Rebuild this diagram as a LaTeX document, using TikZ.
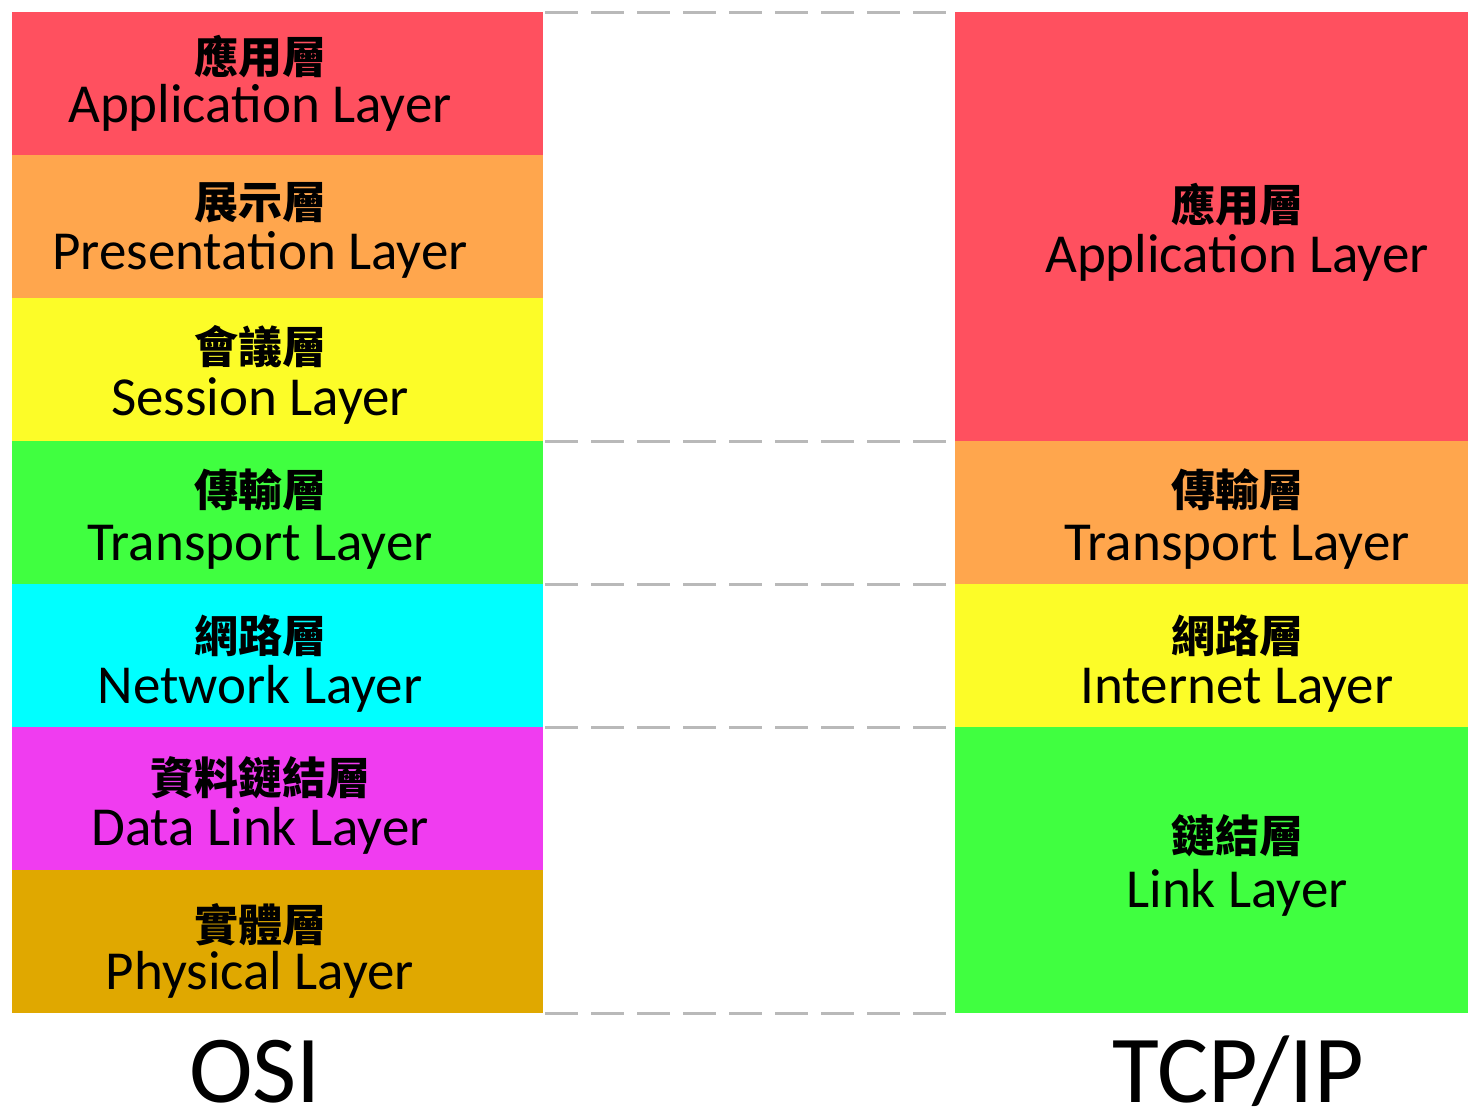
\documentclass[tikz,border=0pt]{standalone}
\usepackage{fontspec}
\setmainfont{Carlito}
\newfontfamily\cjk{Noto Sans CJK TC}
\definecolor{cred}{RGB}{255,80,95}
\definecolor{corange}{RGB}{255,166,77}
\definecolor{cyellow}{RGB}{252,252,40}
\definecolor{cgreen}{RGB}{64,255,64}
\definecolor{ccyan}{RGB}{0,255,255}
\definecolor{cmagenta}{RGB}{240,60,240}
\definecolor{cgold}{RGB}{224,168,0}
\definecolor{dashgray}{RGB}{185,185,185}
\begin{document}
\begin{tikzpicture}[x=1pt,y=-1pt,
  zh/.style={font=\cjk\bfseries\fontsize{44}{44}\selectfont, anchor=base, inner sep=0pt},
  en/.style={font=\fontsize{55}{55}\selectfont, anchor=base, inner sep=0pt},
  big/.style={font=\fontsize{96}{96}\selectfont, anchor=base, inner sep=0pt},
  sep/.style={draw=dashgray, line width=3pt, dash pattern=on 33pt off 13pt}]
\useasboundingbox (0,0) rectangle (1468,1111);
\fill[white] (0,0) rectangle (1468,1111);
% OSI column
\fill[cred]     (12,12)  rectangle (543,155);
\fill[corange]  (12,155) rectangle (543,298);
\fill[cyellow]  (12,298) rectangle (543,441);
\fill[cgreen]   (12,441) rectangle (543,584);
\fill[ccyan]    (12,584) rectangle (543,727);
\fill[cmagenta] (12,727) rectangle (543,870);
\fill[cgold]    (12,870) rectangle (543,1013);
% TCP/IP column
\fill[cred]     (955,12)  rectangle (1468,441);
\fill[corange]  (955,441) rectangle (1468,584);
\fill[cyellow]  (955,584) rectangle (1468,727);
\fill[cgreen]   (955,727) rectangle (1468,1013);
% dashed separators
\coordinate (s0a) at (545,12);   \coordinate (s0b) at (955,12);
\coordinate (s1a) at (545,441);  \coordinate (s1b) at (955,441);
\coordinate (s2a) at (545,584);  \coordinate (s2b) at (955,584);
\coordinate (s3a) at (545,727);  \coordinate (s3b) at (955,727);
\coordinate (s4a) at (545,1013); \coordinate (s4b) at (955,1013);
\foreach \i in {0,...,4} \draw[sep] (s\i a) -- (s\i b);
% OSI labels
\node[zh] (o1z) at (260,73)  {應用層};   \node[en] (o1e) at (260,122)  {Application Layer};
\node[zh] (o2z) at (260,218) {展示層};   \node[en] (o2e) at (260,269)  {Presentation Layer};
\node[zh] (o3z) at (260,363) {會議層};   \node[en] (o3e) at (260,415)  {Session Layer};
\node[zh] (o4z) at (260,506) {傳輸層};   \node[en] (o4e) at (260,560)  {Transport Layer};
\node[zh] (o5z) at (260,652) {網路層};   \node[en] (o5e) at (260,703)  {Network Layer};
\node[zh] (o6z) at (260,794) {資料鏈結層}; \node[en] (o6e) at (260,845) {Data Link Layer};
\node[zh] (o7z) at (260,941) {實體層};   \node[en] (o7e) at (260,989)  {Physical Layer};
% TCP/IP labels
\node[zh] (t1z) at (1237,221) {應用層};  \node[en] (t1e) at (1237,272) {Application Layer};
\node[zh] (t2z) at (1237,506) {傳輸層};  \node[en] (t2e) at (1237,560) {Transport Layer};
\node[zh] (t3z) at (1237,652) {網路層};  \node[en] (t3e) at (1237,703) {Internet Layer};
\node[zh] (t4z) at (1237,852) {鏈結層};  \node[en] (t4e) at (1237,907) {Link Layer};
% column titles
\node[big] (osi) at (255,1102) {OSI};
\node[big] (tcp) at (1238,1102) {TCP/IP};
\end{tikzpicture}
\end{document}
